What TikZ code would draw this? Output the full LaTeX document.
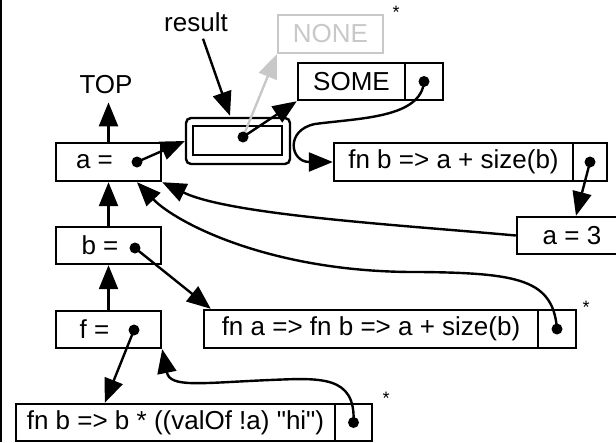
\documentclass[tikz,border=0pt]{standalone}
\usepackage{fontspec}
\setmainfont{Liberation Sans}[Ligatures=TeXOff]
\usetikzlibrary{arrows.meta,calc}
\definecolor{ghost}{RGB}{200,200,200}
\begin{document}
\begin{tikzpicture}[x=1pt,y=-1pt,
  box/.style={draw, line width=2.4pt, inner sep=0pt, minimum height=38pt, font=\fontsize{26}{30}\selectfont, anchor=center},
  lbl/.style={inner sep=0pt, font=\fontsize{26}{30}\selectfont},
  star/.style={inner sep=0pt, font=\fontsize{18}{20}\selectfont},
  arr/.style={line width=2.4pt, -{Triangle[length=24pt,width=19pt]}},
  dotmark/.style={fill=black},
]
\useasboundingbox (0,0) rectangle (616,442);
\draw[line width=2.4pt] (1,0) -- (1,442);

% environment frames
\node[box, minimum width=105pt] (aBox) at (108.5,162) {a =\kern28pt};
\node[box, minimum width=105pt, minimum height=37pt] (bBox) at (108.5,245.5) {b =\kern17pt};
\node[box, minimum width=105pt, minimum height=37pt] (fBox) at (108.5,329.5) {f =\kern28pt};
\coordinate (adot) at (137,162);
\coordinate (bdot) at (135,248);
\coordinate (fdot) at (134,330);

\node[lbl] (TOP) at (106,85) {TOP};
\node[lbl] (result) at (196,22) {result};

% result ref cell
\node[draw, line width=2.4pt, rounded corners=5pt, minimum width=104pt, minimum height=46pt, inner sep=0pt] (resOut) at (238,141) {};
\node[draw, line width=2.4pt, minimum width=89pt, minimum height=29pt, inner sep=0pt] (resIn) at (237.5,140.5) {};
\coordinate (rdot) at (243,137);

% NONE / SOME
\node[box, draw=ghost, text=ghost, minimum width=105pt] (NONE) at (330.5,34) {NONE};
\node[star] (s1) at (396,12) {*};
\node[box, minimum width=107pt, minimum height=37pt] (SOME) at (351.5,81.5) {SOME};
\node[box, minimum width=38pt, minimum height=37pt] (someCell) at (424,81.5) {};

% closures
\node[box, minimum width=239pt] (fnB1) at (453.5,162) {fn b => a + size(b)};
\node[box, minimum width=34pt] (fnB1Cell) at (590,162) {};
\node[box, minimum width=110pt, minimum height=37pt] (a3) at (572,235.5) {a = 3};
\node[box, minimum width=334pt] (fnA) at (371,329) {fn a => fn b => a + size(b)};
\node[box, minimum width=38pt] (fnACell) at (557,329) {};
\node[star] (s2) at (586,307) {*};
\node[box, minimum width=319pt, minimum height=37pt] (fnBot) at (175.5,422.5) {fn b => b * ((valOf !a) "hi")};
\node[box, minimum width=37pt, minimum height=37pt] (fnBotCell) at (353.5,422.5) {};
\node[star] (s3) at (386,398) {*};

% connectors
\draw[arr, shorten >=8pt] (aBox.north) -- (aBox.north |- TOP.south);
\draw[arr] (bBox.north) -- (aBox.south);
\draw[arr] (fBox.north) -- (bBox.south);
\draw[arr] ($(result.south)+(7,7)$) -- ($(resOut.north)+(-8,-1)$);
\draw[arr, ghost] (rdot) -- (NONE.south west);
\draw[arr] (rdot) -- (SOME.south west);
\draw[arr] (adot) -- (resOut.west);
\draw[arr] (someCell.center) .. controls (421,118) and (360,118) .. (315,124) .. controls (285,130) and (290,162) .. (fnB1.west);
\draw[arr] (fnB1Cell.center) -- ($(a3.north)+(4,0)$);
\draw[arr] (a3.west) .. controls (400,225) and (230,215) .. (aBox.south east);
\draw[arr] (fnACell.center) .. controls (553,280) and (520,273) .. (420,272) .. controls (270,273) and (175,222) .. (aBox.south -| adot);
\draw[arr] (bdot) -- ($(fnA.north west)+(8,0)$);
\draw[arr] (fdot) -- ($(fnBot.north west)+(90,0)$);
\draw[arr] (fnBotCell.center) .. controls (356,375) and (320,378) .. (270,380) .. controls (200,383) and (170,388) .. (fBox.south east);

% dots
\foreach \p in {adot,bdot,fdot,rdot,someCell.center,fnB1Cell.center,fnACell.center,fnBotCell.center}
  \fill[dotmark] (\p) circle (5.5);
\end{tikzpicture}
\end{document}
